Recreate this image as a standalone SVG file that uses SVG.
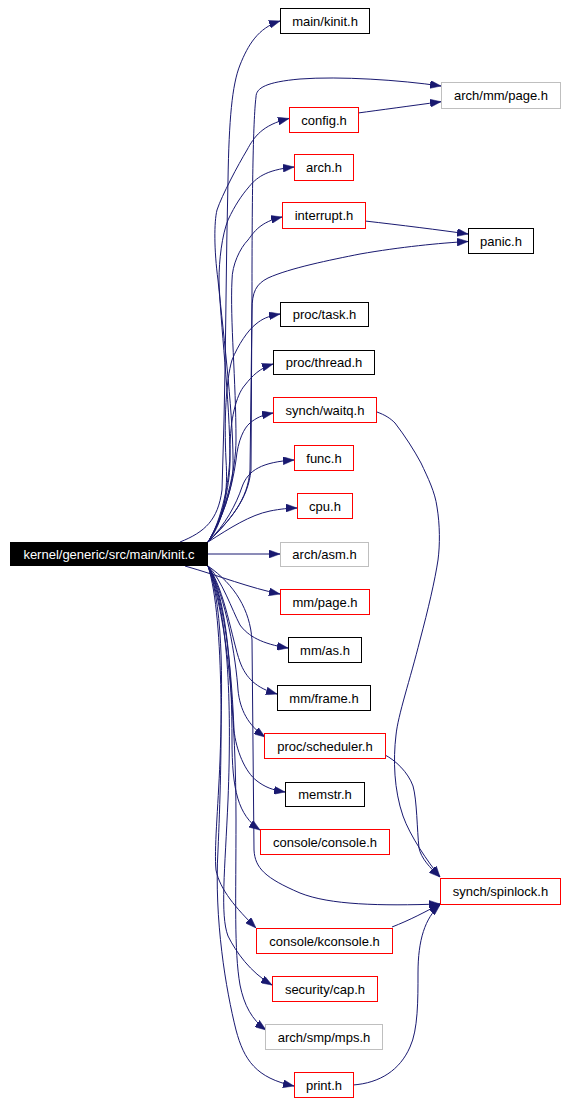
<svg xmlns="http://www.w3.org/2000/svg" width="567" height="1103" viewBox="0 0 567 1103">
<style>
.n rect{fill:#fff;stroke-width:1}
.b rect{stroke:#000}
.r rect{stroke:#f00}
.g rect{stroke:#bfbfbf}
text{font-family:"Liberation Sans",Arial,sans-serif;font-size:13px;text-anchor:middle;fill:#000}
#edges path{fill:none;stroke:#191970;stroke-width:1;marker-end:url(#ah)}
</style>
<defs>
<marker id="ah" viewBox="0 0 11 8" markerWidth="11" markerHeight="8" refX="11" refY="4" orient="auto" markerUnits="userSpaceOnUse">
<path d="M0,0 L11,4 L0,8 z" fill="#191970" stroke="#191970" stroke-width="0.5"/>
</marker>
</defs>
<rect width="567" height="1103" fill="#fff"/>
<g id="edges">
<path d="M180,542 C205,532 218,520 222,490 L224,420 C226,340 226,260 228,180 C229,120 232,85 240,65 C248,45 258,28 280,21"/>
<path d="M208,542 C230,520 248,500 251,470 L252,290 C252,200 253,120 256,97 C256,88 266,82 300,79 C340,76 400,80 441,86"/>
<path d="M208,542 C222,520 232,490 233,470 C234,420 224,340 218,280 C214,250 214,222 217,210 C222,195 238,165 247,150 C254,137 262,125 289,118.5"/>
<path d="M208,542 C225,515 230,480 230,460 C230,400 220,320 219,280 C219,260 222,235 228,220 C235,205 242,195 248,188 C256,178 265,170 294,167"/>
<path d="M208,542 C225,515 236,470 236,440 C236,380 230,320 232,280 C232,265 240,248 248,240 C254,232 260,222 282,217"/>
<path d="M208,542 C230,520 248,500 250,470 L252,310 C252,292 256,284 268,278 C290,268 330,260 360,254 C400,247 440,243 468,241.5"/>
<path d="M208,542 C225,520 228,490 226,460 C224,420 226,380 232,360 C238,345 248,330 256,324 C262,319 268,316 280,314"/>
<path d="M208,542 C222,520 230,480 230,450 C230,420 236,395 245,385 C252,376 260,368 273,364"/>
<path d="M208,542 C222,520 232,490 236,460 C238,440 244,428 250,423 C256,418 262,415 273,413"/>
<path d="M208,542 C225,525 236,505 242,487 C248,470 262,462 294,460"/>
<path d="M208,542 C230,528 250,515 270,511 C280,509 290,508 297,508"/>
<path d="M208,554 L280,554"/>
<path d="M185,566 C220,576 250,588 280,594"/>
<path d="M208,566 C222,580 232,610 240,625 C248,636 262,644 288,648"/>
<path d="M208,566 C225,590 232,640 240,662 C246,678 256,688 277,694"/>
<path d="M208,566 C226,595 236,660 238,690 C240,710 248,725 265,737"/>
<path d="M208,566 C226,600 232,680 234,730 C236,750 245,772 257,781 C265,787 272,790 285,792"/>
<path d="M208,566 C228,600 232,680 232,740 C232,790 238,815 260,830"/>
<path d="M208,566 C235,585 250,610 252,640 L254,850 C255,868 265,878 300,893 C330,905 380,906 440,904"/>
<path d="M208,566 C225,610 222,700 220,760 C218,810 214,850 216,870 C220,890 236,908 256,928"/>
<path d="M208,566 C228,610 232,700 228,800 C225,870 220,915 228,936 C236,952 250,972 272,985"/>
<path d="M208,566 C228,620 236,720 236,820 C236,900 234,950 240,985 C244,1005 252,1020 266,1030"/>
<path d="M208,566 C225,620 222,760 218,850 C214,920 226,990 236,1030 C244,1060 256,1078 294,1086"/>
<path d="M358,113 C380,110 410,106 441,101.7"/>
<path d="M365,221 C400,225 440,230 468,234"/>
<path d="M377,412 C385,415 390,418 395,423 C405,436 414,450 421,463 C428,478 435,492 437,507 C440,525 440,545 438,560 C435,580 428,610 420,640 C410,680 398,715 396,735 C393,760 394,790 403,816 C410,836 428,862 440,877"/>
<path d="M385,755 C395,760 408,772 413,786 C417,800 417,830 419,848 C421,858 430,868 440,877"/>
<path d="M392,927 C410,920 425,912 440,904"/>
<path d="M353,1085 C380,1083 400,1070 410,1047 C418,1030 418,1000 418,973 C418,940 425,918 440,905"/>
</g>
<g id="kinit_c"><rect x="10" y="542" width="198" height="24" fill="#000"/><text x="109" y="558.5" style="fill:#fff">kernel/generic/src/main/kinit.c</text></g>
<g id="main_kinit_h" class="n b"><rect x="280.5" y="8.5" width="89" height="25"/><text x="325" y="25.5">main/kinit.h</text></g>
<g id="arch_mm_page_h" class="n g"><rect x="441.5" y="82.5" width="119" height="26"/><text x="501" y="100">arch/mm/page.h</text></g>
<g id="config_h" class="n r"><rect x="289.5" y="107.5" width="69" height="25"/><text x="324" y="124.5">config.h</text></g>
<g id="arch_h" class="n r"><rect x="294.5" y="154.5" width="59" height="26"/><text x="324" y="172">arch.h</text></g>
<g id="interrupt_h" class="n r"><rect x="282.5" y="202.5" width="83" height="26"/><text x="324" y="220">interrupt.h</text></g>
<g id="panic_h" class="n b"><rect x="468.5" y="228.5" width="65" height="25"/><text x="501" y="245.5">panic.h</text></g>
<g id="proc_task_h" class="n b"><rect x="280.5" y="302.5" width="88" height="24"/><text x="324.5" y="319">proc/task.h</text></g>
<g id="proc_thread_h" class="n b"><rect x="273.5" y="350.5" width="101" height="24"/><text x="324" y="367">proc/thread.h</text></g>
<g id="synch_waitq_h" class="n r"><rect x="273.5" y="397.5" width="103" height="25"/><text x="325" y="414.5">synch/waitq.h</text></g>
<g id="func_h" class="n r"><rect x="294.5" y="445.5" width="59" height="25"/><text x="324" y="462.5">func.h</text></g>
<g id="cpu_h" class="n r"><rect x="297.5" y="493.5" width="55" height="25"/><text x="325" y="510.5">cpu.h</text></g>
<g id="arch_asm_h" class="n g"><rect x="280.5" y="542.5" width="88" height="24"/><text x="324.5" y="559">arch/asm.h</text></g>
<g id="mm_page_h" class="n r"><rect x="280.5" y="589.5" width="89" height="25"/><text x="325" y="606.5">mm/page.h</text></g>
<g id="mm_as_h" class="n b"><rect x="288.5" y="637.5" width="73" height="25"/><text x="325" y="654.5">mm/as.h</text></g>
<g id="mm_frame_h" class="n b"><rect x="277.5" y="685.5" width="93" height="25"/><text x="324" y="702.5">mm/frame.h</text></g>
<g id="proc_scheduler_h" class="n r"><rect x="264.5" y="733.5" width="121" height="25"/><text x="325" y="750.5">proc/scheduler.h</text></g>
<g id="memstr_h" class="n b"><rect x="285.5" y="782.5" width="79" height="24"/><text x="325" y="799">memstr.h</text></g>
<g id="console_console_h" class="n r"><rect x="260.5" y="829.5" width="129" height="25"/><text x="325" y="846.5">console/console.h</text></g>
<g id="synch_spinlock_h" class="n r"><rect x="440.5" y="878.5" width="120" height="26"/><text x="500.5" y="896">synch/spinlock.h</text></g>
<g id="console_kconsole_h" class="n r"><rect x="256.5" y="928.5" width="136" height="25"/><text x="324.5" y="945.5">console/kconsole.h</text></g>
<g id="security_cap_h" class="n r"><rect x="272.5" y="976.5" width="105" height="25"/><text x="325" y="993.5">security/cap.h</text></g>
<g id="arch_smp_mps_h" class="n g"><rect x="265.5" y="1024.5" width="117" height="25"/><text x="324" y="1041.5">arch/smp/mps.h</text></g>
<g id="print_h" class="n r"><rect x="294.5" y="1072.5" width="59" height="25"/><text x="324" y="1089.5">print.h</text></g>
</svg>
